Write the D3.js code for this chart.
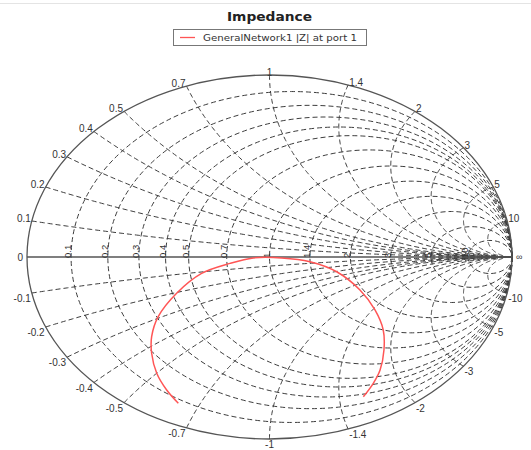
<!DOCTYPE html>
<html><head><meta charset="utf-8">
<script src="https://cdn.jsdelivr.net/npm/d3@7"></script>
<style>body{margin:0;background:#fff}svg{display:block}</style>
</head><body>
<svg id="c" width="531" height="450"></svg>
<script>
// ---- data ----
const title = "Impedance";
const seriesName = "GeneralNetwork1 |Z| at port 1";
const resistanceValues = [0.1, 0.2, 0.3, 0.4, 0.5, 0.7, 1, 1.4, 2, 3, 5, 10];
const reactanceValues = [0.1, 0.2, 0.3, 0.4, 0.5, 0.7, 1, 1.4, 2, 3, 5, 10];
const resistanceLabels = ["0.1","0.2","0.3","0.4","0.5","0.7","1","1.4","2","3","5","10"];
const reactanceLabels = ["0.1","0.2","0.3","0.4","0.5","0.7","1","1.4","2","3","5","10"];
// reflection coefficient samples
const gammaRe = [-0.376,-0.424,-0.465,-0.486,-0.486,-0.459,-0.383,-0.280,-0.163,-0.067,0.050,0.167,0.277,0.373,0.435,0.469,0.472,0.456,0.428,0.387];
const gammaIm = [-0.804,-0.731,-0.639,-0.529,-0.438,-0.328,-0.199,-0.090,-0.035,-0.005,-0.005,-0.026,-0.081,-0.181,-0.291,-0.401,-0.511,-0.621,-0.694,-0.768];

// ---- layout ----
const svg = d3.select("#c");
const cx = 269.5, cy = 257, rx = 242.5, ry = 182;
const xs = d3.scaleLinear().domain([-1, 1]).range([cx - rx, cx + rx]);
const ys = d3.scaleLinear().domain([-1, 1]).range([cy + ry, cy - ry]);
const font = "'Liberation Sans', Arial, sans-serif";
const gridColor = "#3c3c3c";

svg.append("line").attr("x1",0).attr("x2",531).attr("y1",3.5).attr("y2",3.5)
  .attr("stroke","#e4e4e4").attr("stroke-width",1);

const grid = svg.append("g").attr("fill","none").attr("stroke",gridColor)
  .attr("stroke-width",1).attr("stroke-dasharray","5,3");

// resistance circles
resistanceValues.forEach(r => {
  const c = r/(r+1), R = 1/(r+1);
  grid.append("ellipse")
    .attr("cx", xs(c)).attr("cy", ys(0))
    .attr("rx", xs(R) - xs(0)).attr("ry", ys(0) - ys(R));
});

// reactance arcs
const line = d3.line().x(d => xs(d[0])).y(d => ys(d[1]));
reactanceValues.forEach(x => {
  [1, -1].forEach(s => {
    const R = 1/x;
    const g0 = [(x*x - 1)/(x*x + 1), 2*x/(x*x + 1)];
    let a0 = Math.atan2(g0[1] - R, g0[0] - 1);
    if (a0 < 0) a0 += 2*Math.PI;
    const a1 = 1.5*Math.PI;
    const pts = d3.range(0, 201).map(i => {
      const a = a0 + (a1 - a0)*i/200;
      return [1 + R*Math.cos(a), s*(R + R*Math.sin(a))];
    });
    grid.append("path").attr("d", line(pts));
  });
});

// outer circle and real axis
svg.append("ellipse").attr("cx",cx).attr("cy",cy).attr("rx",rx).attr("ry",ry)
  .attr("fill","none").attr("stroke","#555").attr("stroke-width",1.3);
svg.append("line").attr("x1",xs(-1)).attr("x2",xs(1)).attr("y1",ys(0)).attr("y2",ys(0))
  .attr("stroke","#555").attr("stroke-width",1.6);

// labels
const lab = svg.append("g").attr("font-family",font).attr("fill","#333");
reactanceValues.forEach((x, i) => {
  const th = 2*Math.atan(1/x);
  const px = xs(Math.cos(th)), pyU = ys(Math.sin(th)), pyL = ys(-Math.sin(th));
  const deg = th*180/Math.PI;
  let anchor, dx;
  if (Math.abs(deg - 90) < 3) { anchor = "middle"; dx = 0; }
  else if (deg > 90) { anchor = "end"; dx = -1; }
  else { anchor = "start"; dx = 1; }
  lab.append("text").attr("x", px + dx).attr("y", pyU + 1).attr("text-anchor", anchor)
    .attr("font-size", 10).text(reactanceLabels[i]);
  lab.append("text").attr("x", px + dx).attr("y", pyL + 9).attr("text-anchor", anchor)
    .attr("font-size", 10).text("-" + reactanceLabels[i]);
});
resistanceValues.forEach((r, i) => {
  const gx = (r - 1)/(r + 1);
  lab.append("text").attr("transform", `translate(${xs(gx)},${ys(0) + 1}) rotate(-90)`)
    .attr("text-anchor","start").attr("font-size",9.5).text(resistanceLabels[i]);
});
lab.append("text").attr("x", xs(-1) - 4).attr("y", ys(0) + 4).attr("text-anchor","end")
  .attr("font-size",10).text("0");
lab.append("text").attr("x", xs(1) + 4).attr("y", ys(0) + 3).attr("text-anchor","start")
  .attr("font-size",9).text("∞");

// data curve
const pts = gammaRe.map((v, i) => [v, gammaIm[i]]);
svg.append("path").attr("d", d3.line().x(d => xs(d[0])).y(d => ys(d[1])).curve(d3.curveCatmullRom)(pts))
  .attr("fill","none").attr("stroke","#ff5555").attr("stroke-width",1.5);

// title & legend
svg.append("text").attr("x",227).attr("y",21).attr("text-anchor","start")
  .attr("font-family","'DejaVu Sans', Verdana, sans-serif").attr("font-weight","bold").attr("font-size",13)
  .attr("textLength",85).attr("lengthAdjust","spacingAndGlyphs")
  .attr("fill","#222").text(title);
svg.append("rect").attr("x",173.5).attr("y",29.5).attr("width",193).attr("height",16)
  .attr("fill","#fff").attr("stroke","#777");
svg.append("line").attr("x1",180).attr("x2",195).attr("y1",37.5).attr("y2",37.5)
  .attr("stroke","#ff5555").attr("stroke-width",1.3);
svg.append("text").attr("x",203).attr("y",41).attr("font-family","'DejaVu Sans', Verdana, sans-serif")
  .attr("font-size",9.5).attr("textLength",154).attr("lengthAdjust","spacingAndGlyphs")
  .attr("fill","#333").text(seriesName);
</script>
</body></html>
